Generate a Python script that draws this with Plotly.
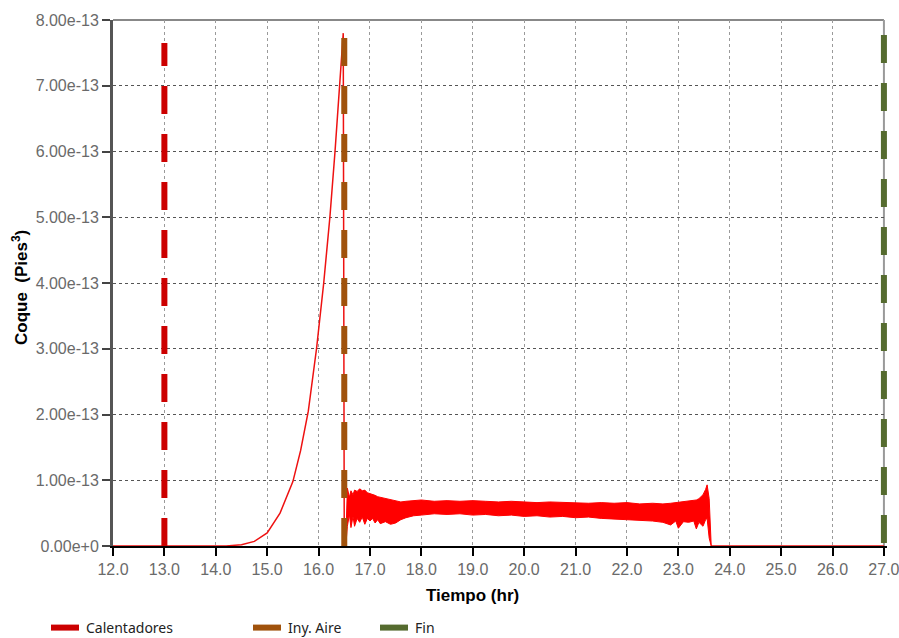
import plotly.graph_objects as go

# ---------------- data ----------------
# Rising branch of Coque (Pies^3) before air injection
t_rise = [12.0, 14.2, 14.5, 14.75, 15.0, 15.25, 15.5, 15.65, 15.8, 15.96, 16.1, 16.22, 16.32, 16.41, 16.48, 16.5, 16.53]
coque_rise = [0.0, 0.0, 0.02e-13, 0.07e-13, 0.2e-13, 0.5e-13, 0.98e-13, 1.45e-13, 2.05e-13, 3.0e-13,
              4.0e-13, 5.0e-13, 6.0e-13, 7.0e-13, 7.8e-13, 0.05e-13, 0.0]

# Noisy band after air injection (upper / lower envelope)
t_band = [16.53, 16.56, 16.6, 16.63, 16.67, 16.7, 16.75, 16.8, 16.85, 16.9, 16.95, 17.0, 17.05, 17.1,
          17.15, 17.2, 17.3, 17.4, 17.5, 17.6, 17.7, 17.85, 18.0, 18.25, 18.5, 18.75, 19.0, 19.25,
          19.5, 19.75, 20.0, 20.25, 20.5, 20.75, 21.0, 21.25, 21.5, 21.75, 22.0, 22.25, 22.5, 22.7,
          22.85, 22.95, 23.0, 23.1, 23.2, 23.3, 23.35, 23.4, 23.48, 23.53, 23.56, 23.6, 23.64]
coque_upper = [0.1e-13, 0.88e-13, 0.74e-13, 0.84e-13, 0.78e-13, 0.85e-13, 0.83e-13, 0.87e-13, 0.84e-13,
               0.85e-13, 0.81e-13, 0.8e-13, 0.78e-13, 0.77e-13, 0.75e-13, 0.74e-13, 0.72e-13, 0.7e-13,
               0.68e-13, 0.67e-13, 0.68e-13, 0.69e-13, 0.7e-13, 0.68e-13, 0.69e-13, 0.68e-13, 0.69e-13,
               0.68e-13, 0.67e-13, 0.68e-13, 0.67e-13, 0.66e-13, 0.67e-13, 0.66e-13, 0.66e-13, 0.65e-13,
               0.66e-13, 0.65e-13, 0.66e-13, 0.64e-13, 0.65e-13, 0.64e-13, 0.65e-13, 0.66e-13, 0.66e-13,
               0.67e-13, 0.68e-13, 0.69e-13, 0.7e-13, 0.72e-13, 0.78e-13, 0.86e-13, 0.93e-13, 0.72e-13, 0.0]
coque_lower = [0.0, 0.3e-13, 0.48e-13, 0.28e-13, 0.45e-13, 0.3e-13, 0.42e-13, 0.36e-13, 0.44e-13,
               0.33e-13, 0.42e-13, 0.38e-13, 0.42e-13, 0.35e-13, 0.4e-13, 0.34e-13, 0.37e-13, 0.33e-13,
               0.35e-13, 0.4e-13, 0.43e-13, 0.46e-13, 0.47e-13, 0.49e-13, 0.48e-13, 0.49e-13, 0.47e-13,
               0.48e-13, 0.46e-13, 0.47e-13, 0.45e-13, 0.46e-13, 0.44e-13, 0.45e-13, 0.43e-13, 0.44e-13,
               0.42e-13, 0.41e-13, 0.4e-13, 0.39e-13, 0.38e-13, 0.36e-13, 0.32e-13, 0.38e-13, 0.27e-13,
               0.37e-13, 0.36e-13, 0.38e-13, 0.26e-13, 0.36e-13, 0.3e-13, 0.4e-13, 0.42e-13, 0.12e-13, 0.0]

# Zero tail after the front passes
t_tail = [23.64, 27.0]
coque_tail = [0.0, 0.0]

# Event markers (vertical dashed lines)
event_names = ["Calentadores", "Iny. Aire", "Fin"]
event_times = [13.0, 16.5, 27.0]
event_y0 = [0.0, 0.0, 7.77e-13]
event_y1 = [7.65e-13, 8.2e-13, 0.0]
event_colors = ["#CC0000", "#A0520C", "#556B2F"]

x_ticks = [12.0, 13.0, 14.0, 15.0, 16.0, 17.0, 18.0, 19.0, 20.0, 21.0, 22.0, 23.0, 24.0, 25.0, 26.0, 27.0]
x_tick_labels = ["12.0", "13.0", "14.0", "15.0", "16.0", "17.0", "18.0", "19.0", "20.0", "21.0",
                 "22.0", "23.0", "24.0", "25.0", "26.0", "27.0"]
y_ticks = [0.0, 1e-13, 2e-13, 3e-13, 4e-13, 5e-13, 6e-13, 7e-13, 8e-13]
y_tick_labels = ["0.00e+0", "1.00e-13", "2.00e-13", "3.00e-13", "4.00e-13", "5.00e-13",
                 "6.00e-13", "7.00e-13", "8.00e-13"]

# ---------------- figure ----------------
fig = go.Figure()

curve_color = "#EE1111"
fig.add_trace(go.Scatter(x=t_rise, y=coque_rise, mode="lines",
                         line=dict(color=curve_color, width=1.5), showlegend=False, hoverinfo="skip"))
fig.add_trace(go.Scatter(x=t_band, y=coque_lower, mode="lines",
                         line=dict(color="#FF0000", width=1), showlegend=False, hoverinfo="skip"))
fig.add_trace(go.Scatter(x=t_band, y=coque_upper, mode="lines", fill="tonexty",
                         fillcolor="#FF0000",
                         line=dict(color="#FF0000", width=1), showlegend=False, hoverinfo="skip"))
fig.add_trace(go.Scatter(x=t_tail, y=coque_tail, mode="lines",
                         line=dict(color=curve_color, width=1.5), showlegend=False, hoverinfo="skip"))

legend_ids = ["legend", "legend2", "legend3"]
for name, t, y0, y1, c, lid in zip(event_names, event_times, event_y0, event_y1, event_colors, legend_ids):
    fig.add_trace(go.Scatter(x=[t, t], y=[y0, y1], mode="lines", name=name,
                             line=dict(color=c, width=6, dash="28px,20px"),
                             legend=lid, hoverinfo="skip"))

legend_font = dict(family="Noto Sans", size=14, color="#222222")
def leg(xpx):
    return dict(orientation="h", xref="container", yref="container",
                x=xpx / 899, y=1 - 628 / 638, xanchor="left", yanchor="middle",
                font=legend_font, bgcolor="rgba(0,0,0,0)", borderwidth=0, itemwidth=30)

tick_font = dict(family="Liberation Sans", size=16, color="#6a6a6a")

fig.update_layout(
    width=899, height=638,
    margin=dict(l=113, r=12, t=20, b=92, autoexpand=False),
    paper_bgcolor="white", plot_bgcolor="white",
    legend=leg(46), legend2=leg(248), legend3=leg(375),
    xaxis=dict(range=[12, 27.06], tickvals=x_ticks, ticktext=x_tick_labels, automargin=False,
               ticklabeloverflow="allow",
               showgrid=True, gridcolor="#9a9a9a", gridwidth=1, griddash="dot",
               showline=True, linecolor="black", linewidth=2,
               ticks="outside", ticklen=8, tickwidth=2, tickcolor="black",
               tickfont=tick_font, zeroline=False),
    yaxis=dict(range=[0, 8e-13], tickvals=y_ticks, ticktext=y_tick_labels, automargin=False,
               ticklabeloverflow="allow",
               showgrid=True, gridcolor="#555555", gridwidth=1, griddash="3px,3px",
               showline=True, linecolor="#555555", linewidth=3,
               ticks="outside", ticklen=8, tickwidth=2, tickcolor="#444444",
               tickfont=tick_font, zeroline=False),
    shapes=[
        dict(type="line", xref="x", yref="paper", x0=12, x1=27, y0=1, y1=1,
             line=dict(color="#888888", width=2), layer="below"),
        dict(type="line", xref="x", yref="paper", x0=27, x1=27, y0=0, y1=1,
             line=dict(color="#999999", width=2), layer="below"),
    ],
    annotations=[
        dict(text="<b>Tiempo (hr)</b>", xref="paper", yref="paper",
             x=(472 - 113) / 774, y=(546 - 595) / 526, showarrow=False,
             xanchor="center", yanchor="middle",
             font=dict(family="Liberation Sans", size=17, color="black")),
        dict(text="<b>Coque  (Pies<sup>3</sup>)</b>", xref="paper", yref="paper",
             x=(20 - 113) / 774, y=(546 - 288) / 526, showarrow=False, textangle=-90,
             xanchor="center", yanchor="middle",
             font=dict(family="Liberation Sans", size=17, color="black")),
    ],
)

fig.write_html("out.html", config={"displayModeBar": False},
               post_script="document.body.style.margin='0';document.body.style.overflow='hidden';")
